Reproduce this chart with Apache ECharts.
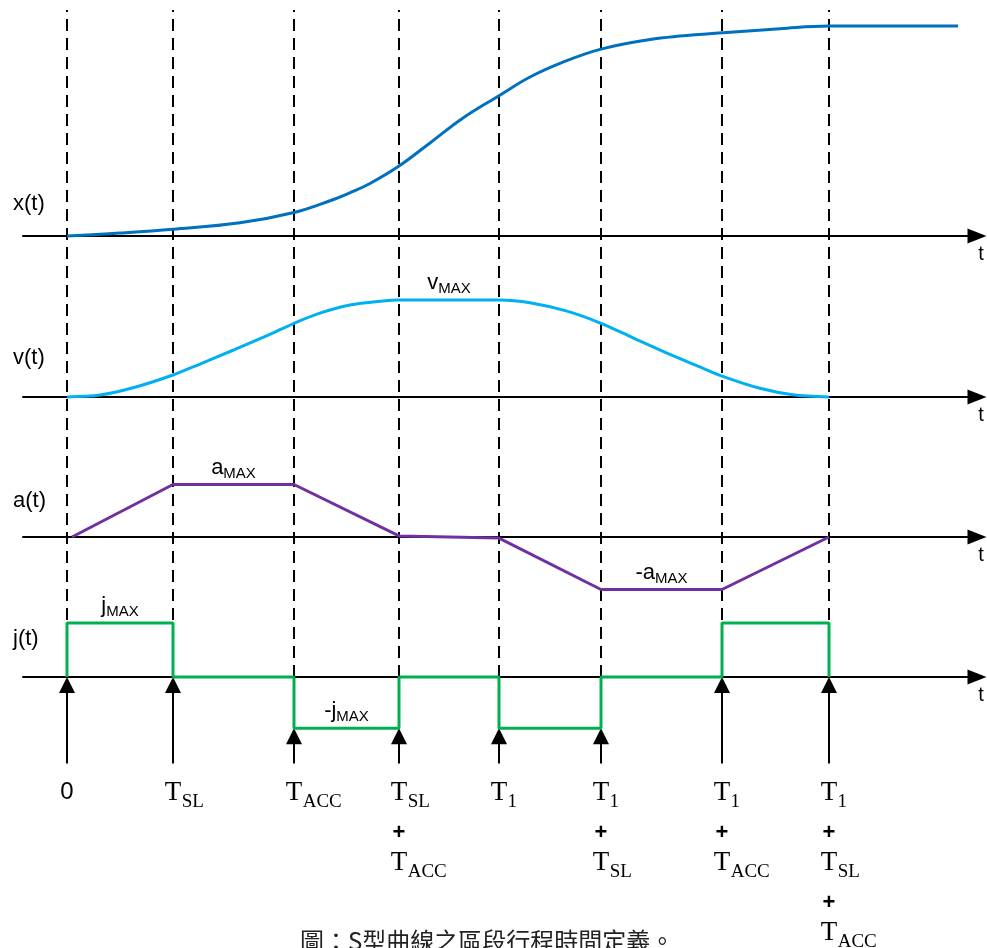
<!DOCTYPE html>
<html>
<head>
<meta charset="utf-8">
<script src="https://cdn.jsdelivr.net/npm/echarts@6/dist/echarts.min.js"></script>
<style>html,body{margin:0;padding:0;background:#fff}#c{width:987px;height:948px}</style>
</head>
<body>
<div id="c"></div>
<script>
// ---------- data ----------
const tickTimes  = [0, 1.06, 2.27, 3.32, 4.32, 5.34, 6.55, 7.62];
const tickLabels = ['0', 'T_SL', 'T_ACC', 'T_SL+T_ACC', 'T_1', 'T_1+T_SL', 'T_1+T_ACC', 'T_1+T_SL+T_ACC'];

const posTimes  = [0, 0.53, 1.06, 1.73, 2.27, 2.63, 2.83, 3.03, 3.32, 3.63, 3.96, 4.32, 4.63, 4.96, 5.34, 5.83, 6.13, 6.56, 7.13, 7.62, 8.91];
const posValues = [0, 0.014, 0.032, 0.063, 0.112, 0.168, 0.206, 0.25, 0.333, 0.443, 0.562, 0.668, 0.757, 0.828, 0.89, 0.936, 0.952, 0.968, 0.987, 1.0, 1.0];

const velTimes  = [0, 0.33, 0.66, 1.06, 1.33, 1.66, 2.00, 2.27, 2.50, 2.83, 3.16, 3.32, 4.32, 4.63, 5.00, 5.34, 5.66, 6.00, 6.33, 6.55, 6.93, 7.26, 7.62];
const velValues = [0, 0.02, 0.095, 0.227, 0.34, 0.482, 0.632, 0.76, 0.855, 0.948, 0.99, 1.0, 1.0, 0.972, 0.885, 0.76, 0.61, 0.452, 0.31, 0.216, 0.09, 0.023, 0];

const accTimes  = [0.05, 1.06, 2.27, 3.32, 4.32, 5.34, 6.55, 7.62];
const accValues = [0, 1, 1, 0.02, -0.02, -1, -1, 0];

const jerkTimes  = [0, 0, 1.06, 2.27, 3.32, 4.32, 5.34, 6.55, 7.62];
const jerkValues = [0, 1, 0, -0.95, 0, -0.95, 0, 1, 0];

const panelNames = ['x(t)', 'v(t)', 'a(t)', 'j(t)'];
const caption = '圖：S型曲線之區段行程時間定義。';

// annotations: [panel, text, sub, fromTick, toTick, level]
const maxLabels = [
  [1, 'v', 'MAX', 3, 4, 1],
  [2, 'a', 'MAX', 1, 2, 1],
  [2, '-a', 'MAX', 5, 6, -1],
  [3, 'j', 'MAX', 0, 1, 1],
  [3, '-j', 'MAX', 2, 3, -0.95]
];

// ---------- layout ----------
const L = 23, R = 10, TMIN = -0.44, TMAX = 9.10;
const panels = [
  {zero: 236, ppu: 210, min: -0.1, max: 1.05, nameOff: 32},
  {zero: 397, ppu: 97, min: -0.2, max: 1.2, nameOff: 39},
  {zero: 537, ppu: 52.5, min: -1.2, max: 1.2, nameOff: 36},
  {zero: 677, ppu: 54, min: -1.65, max: 1.5, nameOff: 38}
];
const arrowBase = -1.6, arrowHead = 16;
const colors = ['#0070C0', '#00B0F0', '#7030A0', '#00B050'];
const serif = '"Liberation Serif","Times New Roman",serif';
const sans = '"Liberation Sans",Arial,sans-serif';

const grids = panels.map(p => ({
  left: L, right: R, top: p.zero - p.max * p.ppu, height: (p.max - p.min) * p.ppu,
  outerBoundsMode: 'none', containLabel: false
}));
grids.push({left: L, right: R, top: 10, height: 667, outerBoundsMode: 'none', containLabel: false});

// measure subscript widths for centering spacers
const mctx = document.createElement('canvas').getContext('2d');
mctx.font = '19px ' + serif;
const subs = ['SL', 'ACC', '1'];
const rich = {
  T: {fontFamily: serif, fontSize: 27, lineHeight: 35, color: '#000'},
  zero: {fontFamily: sans, fontSize: 24, lineHeight: 35, color: '#000'},
  plus: {fontFamily: sans, fontSize: 22, fontWeight: 'bold', lineHeight: 35, height: 25, verticalAlign: 'bottom', color: '#000'}
};
subs.forEach(s => {
  const w = Math.ceil(mctx.measureText(s).width);
  rich['s' + s] = {fontFamily: serif, fontSize: 19, lineHeight: 35, height: 16, verticalAlign: 'bottom', color: '#000', width: w};
  rich['p' + s] = {fontFamily: serif, fontSize: 19, lineHeight: 35, width: w};
});
function richLabel(label) {
  return label.split('+').map(part => {
    if (part === '0') return '{zero|0}';
    const sub = part.split('_')[1];
    return '{p' + sub + '| }{T|T}{s' + sub + '|' + sub + '}';
  }).join('\n{plus|+}\n');
}

const xAxes = panels.map((p, i) => ({
  type: 'value', gridIndex: i, min: TMIN, max: TMAX,
  axisLine: {show: true, onZero: true, symbol: ['none', 'triangle'], symbolSize: [15, 19],
             lineStyle: {color: '#000', width: 2}},
  axisTick: {show: false}, axisLabel: {show: false}, splitLine: {show: false},
  name: 't', nameLocation: 'end', nameGap: 4,
  nameTextStyle: {fontFamily: sans, fontSize: 20, color: '#000', align: 'center', verticalAlign: 'top', padding: [8, 0, 0, 0]}
}));
xAxes.push({
  type: 'value', gridIndex: 4, min: TMIN, max: TMAX,
  axisLine: {show: false}, axisTick: {show: false}, splitLine: {show: false},
  axisLabel: {
    show: true, customValues: tickTimes, margin: 98, hideOverlap: false,
    formatter: v => richLabel(tickLabels[tickTimes.indexOf(v)]),
    rich: rich
  }
});
const yAxes = panels.map((p, i) => ({type: 'value', gridIndex: i, min: p.min, max: p.max, show: false}));
yAxes.push({type: 'value', gridIndex: 4, min: 0, max: 1, show: false});

const maxRich = {
  b: {fontFamily: sans, fontSize: 22, lineHeight: 24, color: '#000'},
  s: {fontFamily: sans, fontSize: 15, lineHeight: 24, height: 12, verticalAlign: 'bottom', color: '#000'}
};
function markPointsFor(panel) {
  return {
    symbol: 'circle', symbolSize: 0, silent: true,
    itemStyle: {color: 'transparent'},
    label: {show: true, position: 'top', distance: 5, rich: maxRich},
    data: maxLabels.filter(m => m[0] === panel).map(m => ({
      coord: [(tickTimes[m[3]] + tickTimes[m[4]]) / 2, m[5]],
      label: {formatter: '{b|' + m[1] + '}{s|' + m[2] + '}'}
    }))
  };
}

const zip = (a, b) => a.map((t, i) => [t, b[i]]);
const series = [
  {type: 'line', name: 'x', xAxisIndex: 0, yAxisIndex: 0, data: zip(posTimes, posValues), smooth: 0.4,
   showSymbol: false, symbol: 'none', lineStyle: {color: colors[0], width: 3}, z: 3, markPoint: markPointsFor(0)},
  {type: 'line', name: 'v', xAxisIndex: 1, yAxisIndex: 1, data: zip(velTimes, velValues), smooth: 0.3,
   showSymbol: false, symbol: 'none', lineStyle: {color: colors[1], width: 3}, z: 3, markPoint: markPointsFor(1)},
  {type: 'line', name: 'a', xAxisIndex: 2, yAxisIndex: 2, data: zip(accTimes, accValues),
   showSymbol: false, symbol: 'none', lineStyle: {color: colors[2], width: 3}, z: 3, markPoint: markPointsFor(2)},
  {type: 'line', name: 'j', xAxisIndex: 3, yAxisIndex: 3, data: zip(jerkTimes, jerkValues), step: 'end',
   showSymbol: false, symbol: 'none', lineStyle: {color: colors[3], width: 3}, z: 3, markPoint: markPointsFor(3)},
  {type: 'line', name: 'guides', xAxisIndex: 4, yAxisIndex: 4, data: [], z: 1,
   markLine: {silent: true, z: 1, symbol: ['none', 'none'], label: {show: false}, emphasis: {disabled: true},
              lineStyle: {color: '#000', width: 2, type: [12, 7]},
              data: tickTimes.map(t => ({xAxis: t}))}},
  {type: 'line', name: 'arrows', xAxisIndex: 3, yAxisIndex: 3, data: [], z: 2,
   markLine: {silent: true, z: 2, symbol: ['none', 'triangle'], symbolSize: [16, arrowHead], label: {show: false},
              emphasis: {disabled: true}, lineStyle: {color: '#000', width: 2, type: 'solid'},
              data: tickTimes.map(t => {
                const idx = jerkTimes.lastIndexOf(t);
                const after = jerkValues[idx];
                const before = idx > 0 ? jerkValues[idx - 1] : 0;
                const tip = Math.min(before, after);
                return [{coord: [t, arrowBase]}, {coord: [t, tip - (arrowHead / 2) / panels[3].ppu]}];
              })}}
];

const graphic = panels.map((p, i) => ({
  type: 'text', left: 13, top: p.zero - p.nameOff - 11,
  style: {text: panelNames[i], fontFamily: sans, fontSize: 22, fill: '#000'}
}));

const chart = echarts.init(document.getElementById('c'));
chart.setOption({
  animation: false,
  backgroundColor: '#fff',
  title: {text: caption, left: 300, top: 929, padding: 0,
          textStyle: {fontFamily: '"Noto Sans CJK TC","Noto Sans CJK SC",sans-serif', fontSize: 24, fontWeight: 'normal', color: '#222'}},
  grid: grids, xAxis: xAxes, yAxis: yAxes, series: series, graphic: graphic
});
</script>
</body>
</html>
